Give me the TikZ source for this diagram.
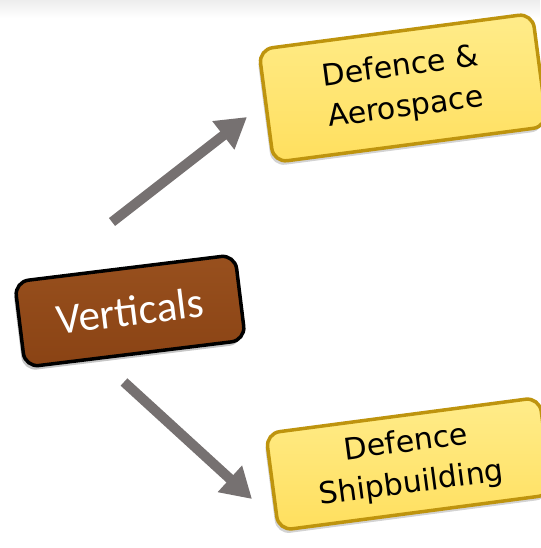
\documentclass[tikz,border=0pt]{standalone}
\usepackage{fontspec}
\setmainfont{DejaVu Sans}
\newfontfamily\calfont{Carlito}
\usetikzlibrary{arrows.meta,shadows,calc}
\definecolor{goldfill}{HTML}{FFDF5E}
\definecolor{goldlight}{HTML}{FFEC8A}
\definecolor{goldedge}{HTML}{BE940E}
\definecolor{brownfill}{HTML}{8A4314}
\definecolor{browntop}{HTML}{98501E}
\definecolor{arrowgray}{HTML}{767171}
\tikzset{
  yellowbox/.style={rounded corners=14pt, draw=goldedge, line width=3.5pt,
    top color=goldlight, bottom color=goldfill, rotate=7.5,
    align=center, inner sep=0pt, font=\fontsize{30}{41}\selectfont,
    drop shadow={shadow xshift=-2pt, shadow yshift=-4pt, opacity=0.35}},
  brownbox/.style={rounded corners=14pt, draw=black, line width=3.5pt,
    top color=browntop, bottom color=brownfill, rotate=7,
    align=center, inner sep=0pt, text=white, font=\calfont\fontsize{43}{48}\selectfont,
    drop shadow={shadow xshift=-2pt, shadow yshift=-4pt, opacity=0.45}},
  bigarrow/.style={draw=arrowgray, line width=10pt,
    -{Triangle[width=34pt,length=30pt]}, arrowgray}
}
\begin{document}
\begin{tikzpicture}[x=1pt,y=-1pt]
\useasboundingbox (0,0) rectangle (540,548);
\shade[top color=black!7, bottom color=white] (0,0) rectangle (540,18);
\node[yellowbox, minimum width=276pt, minimum height=114pt] (aero) at (403,88) {Defence \&\\Aerospace};
\node[brownbox, minimum width=222pt, minimum height=86pt] (vert) at (130,311) {Verticals};
\node[yellowbox, minimum width=276pt, minimum height=98pt] (ship) at (409,464) {Defence\\Shipbuilding};
\coordinate (a1s) at (112,222);
\coordinate (a1e) at (247,117);
\coordinate (a2s) at (124,382);
\coordinate (a2e) at (252,499);
\draw[bigarrow] (a1s) -- (a1e);
\draw[bigarrow] (a2s) -- (a2e);
\end{tikzpicture}
\end{document}
